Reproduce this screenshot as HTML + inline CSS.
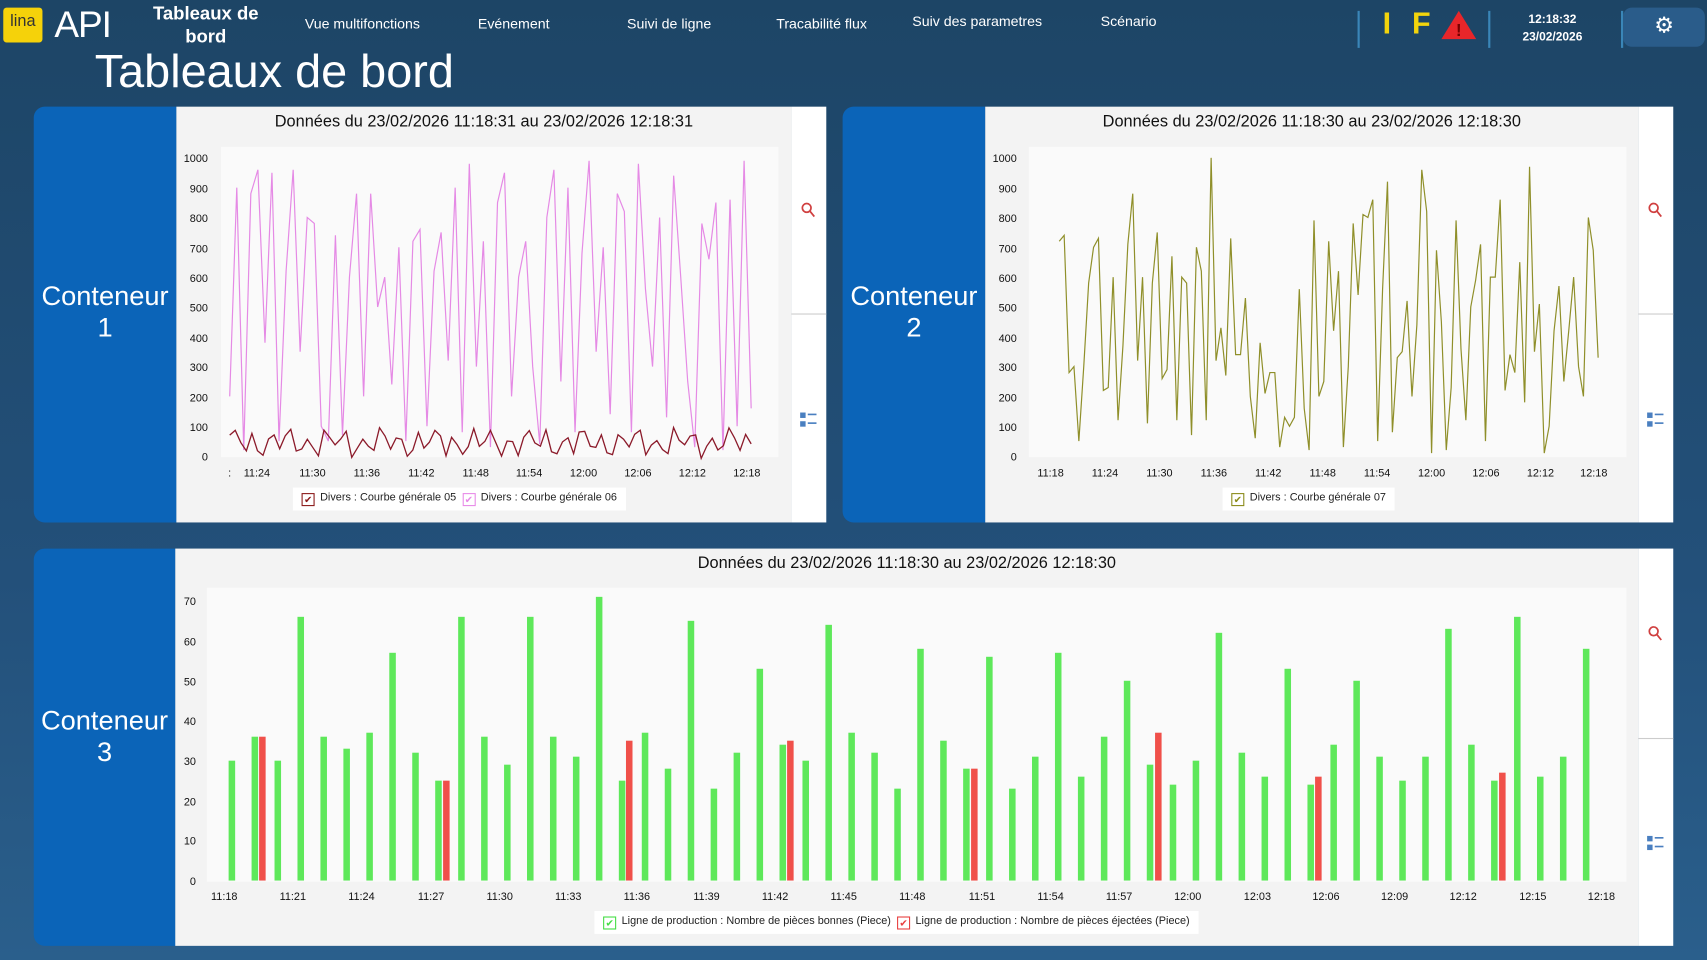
<!DOCTYPE html>
<html><head><meta charset="utf-8"><style>
html,body{margin:0;padding:0;width:1707px;height:960px;overflow:hidden;background:#224c70;font-family:"Liberation Sans",sans-serif}
#w{position:absolute;left:0;top:0;width:1568px;height:882px;transform:scale(1.08865,1.08844);transform-origin:0 0;background:linear-gradient(180deg,#1d4566 0%,#23507a 60%,#2a5f8c 100%)}
.a{position:absolute}
.nav{color:#fff;font-size:13px;top:14px}
.blue{background:#0b64b8;color:#fff;font-size:25px;text-align:center;border-radius:10px 0 0 10px}
.wh{background:#f3f3f3}
.strip{background:#fff}
.t{font-size:15px;color:#111;text-align:center}
.tk{font-size:10px;color:#111}
.lg{background:#fff;font-size:10px;color:#222;padding:4px 8px;white-space:nowrap}
.cb{display:inline-block;width:10px;height:10px;border:1px solid;vertical-align:-2px;margin-right:5px;font-size:9px;line-height:10px;text-align:center}
</style></head><body><div id="w">
<div class="a" style="left:3px;top:7px;width:36px;height:32px;background:#f5d20a;border-radius:3px;font-size:15px;color:#333;text-align:center;line-height:26px">lina</div>
<div class="a" style="left:50px;top:4px;color:#fff;font-size:34px;letter-spacing:-1px">API</div>
<div class="a" style="left:130px;top:2px;width:118px;color:#fff;font-size:17px;font-weight:bold;text-align:center;line-height:21px">Tableaux de bord</div>
<div class="a nav" style="left:280px">Vue multifonctions</div>
<div class="a nav" style="left:439px">Evénement</div>
<div class="a nav" style="left:576px">Suivi de ligne</div>
<div class="a nav" style="left:713px">Tracabilité flux</div>
<div class="a nav" style="left:838px;top:12px">Suiv des parametres</div>
<div class="a nav" style="left:1011px;top:12px">Scénario</div>
<div class="a" style="left:1247px;top:10px;width:2px;height:34px;background:#3a86b8"></div>
<div class="a" style="left:1270px;top:6px;color:#f2d40c;font-size:28px;font-weight:bold">I</div>
<div class="a" style="left:1297px;top:6px;color:#f2d40c;font-size:28px;font-weight:bold">F</div>
<svg class="a" style="left:1323px;top:9px" width="34" height="28"><polygon points="17,1 33,27 1,27" fill="#e8262a"/><text x="17" y="24" font-size="16" text-anchor="middle" fill="#700" font-weight="bold">!</text></svg>
<div class="a" style="left:1367px;top:10px;width:2px;height:34px;background:#3a86b8"></div>
<div class="a" style="left:1390px;top:10px;width:72px;color:#fff;font-size:11px;font-weight:bold;text-align:center;line-height:16px">12:18:32<br>23/02/2026</div>
<div class="a" style="left:1489px;top:10px;width:2px;height:34px;background:#3a86b8"></div>
<div class="a" style="left:1491px;top:7px;width:75px;height:36px;background:#2a5c8a;border-radius:8px;color:#fff;font-size:20px;text-align:center;line-height:34px">⚙</div>
<div class="a" style="left:87px;top:42px;color:#fff;font-size:43px">Tableaux de bord</div>

<!-- panel 1 -->
<div class="a blue" style="left:31px;top:98px;width:131px;height:382px"><div style="margin-top:160px;line-height:29px">Conteneur<br>1</div></div>
<div class="a wh" style="left:162px;top:98px;width:565px;height:382px"></div>
<div class="a strip" style="left:727px;top:98px;width:32px;height:382px"><div style="position:absolute;left:0;top:190px;width:32px;height:1px;background:#ccc"></div></div>
<div class="a t" style="left:162px;top:103px;width:565px">Données du 23/02/2026 11:18:31 au 23/02/2026 12:18:31</div>
<!-- panel 2 -->
<div class="a blue" style="left:774px;top:98px;width:131px;height:382px"><div style="margin-top:160px;line-height:29px">Conteneur<br>2</div></div>
<div class="a wh" style="left:905px;top:98px;width:600px;height:382px"></div>
<div class="a strip" style="left:1505px;top:98px;width:32px;height:382px"><div style="position:absolute;left:0;top:190px;width:32px;height:1px;background:#ccc"></div></div>
<div class="a t" style="left:905px;top:103px;width:600px">Données du 23/02/2026 11:18:30 au 23/02/2026 12:18:30</div>
<!-- panel 3 -->
<div class="a blue" style="left:31px;top:504px;width:130px;height:365px"><div style="margin-top:144px;line-height:29px">Conteneur<br>3</div></div>
<div class="a wh" style="left:161px;top:504px;width:1344px;height:365px"></div>
<div class="a strip" style="left:1505px;top:504px;width:32px;height:365px"><div style="position:absolute;left:0;top:174px;width:32px;height:1px;background:#ccc"></div></div>
<div class="a t" style="left:161px;top:509px;width:1344px">Données du 23/02/2026 11:18:30 au 23/02/2026 12:18:30</div>

<svg class="a" style="left:0;top:0" width="1568" height="882" id="g">
<rect x="203" y="135" width="512" height="285" fill="#fafafa"/>
<rect x="945" y="135" width="549" height="285" fill="#fafafa"/>
<rect x="190" y="540" width="1304" height="270" fill="#fafafa"/>
<g id="d"></g>
<g fill="none" stroke="#d04040" stroke-width="1.6">
<circle cx="741" cy="191" r="4"/><line x1="744" y1="194" x2="748" y2="199"/>
<circle cx="1519" cy="191" r="4"/><line x1="1522" y1="194" x2="1526" y2="199"/>
<circle cx="1519" cy="580" r="4"/><line x1="1522" y1="583" x2="1526" y2="588"/>
</g>
<g fill="#4a7fc0">
<rect x="735" y="379" width="5" height="5"/><rect x="735" y="387" width="5" height="5"/><rect x="742" y="380" width="8" height="1.5"/><rect x="742" y="388" width="8" height="1.5"/>
<rect x="1513" y="379" width="5" height="5"/><rect x="1513" y="387" width="5" height="5"/><rect x="1520" y="380" width="8" height="1.5"/><rect x="1520" y="388" width="8" height="1.5"/>
<rect x="1513" y="768" width="5" height="5"/><rect x="1513" y="776" width="5" height="5"/><rect x="1520" y="769" width="8" height="1.5"/><rect x="1520" y="777" width="8" height="1.5"/>
</g>
<g font-size="10" fill="#111" font-family="Liberation Sans,sans-serif" text-anchor="end">
<text x="191" y="149">1000</text><text x="191" y="177">900</text><text x="191" y="204">800</text><text x="191" y="232">700</text><text x="191" y="259">600</text><text x="191" y="286">500</text><text x="191" y="314">400</text><text x="191" y="341">300</text><text x="191" y="369">200</text><text x="191" y="396">100</text><text x="191" y="423">0</text>
<text x="934" y="149">1000</text><text x="934" y="177">900</text><text x="934" y="204">800</text><text x="934" y="232">700</text><text x="934" y="259">600</text><text x="934" y="286">500</text><text x="934" y="314">400</text><text x="934" y="341">300</text><text x="934" y="369">200</text><text x="934" y="396">100</text><text x="934" y="423">0</text>
<text x="180" y="556">70</text><text x="180" y="593">60</text><text x="180" y="630">50</text><text x="180" y="666">40</text><text x="180" y="703">30</text><text x="180" y="740">20</text><text x="180" y="776">10</text><text x="180" y="813">0</text>
</g>
<g font-size="10" fill="#111" font-family="Liberation Sans,sans-serif" text-anchor="middle">
<text x="211" y="438">:</text><text x="236" y="438">11:24</text><text x="287" y="438">11:30</text><text x="337" y="438">11:36</text><text x="387" y="438">11:42</text><text x="437" y="438">11:48</text><text x="486" y="438">11:54</text><text x="536" y="438">12:00</text><text x="586" y="438">12:06</text><text x="636" y="438">12:12</text><text x="686" y="438">12:18</text>
<text x="965" y="438">11:18</text><text x="1015" y="438">11:24</text><text x="1065" y="438">11:30</text><text x="1115" y="438">11:36</text><text x="1165" y="438">11:42</text><text x="1215" y="438">11:48</text><text x="1265" y="438">11:54</text><text x="1315" y="438">12:00</text><text x="1365" y="438">12:06</text><text x="1415" y="438">12:12</text><text x="1464" y="438">12:18</text>
<text x="206" y="827">11:18</text><text x="269" y="827">11:21</text><text x="332" y="827">11:24</text><text x="396" y="827">11:27</text><text x="459" y="827">11:30</text><text x="522" y="827">11:33</text><text x="585" y="827">11:36</text><text x="649" y="827">11:39</text><text x="712" y="827">11:42</text><text x="775" y="827">11:45</text><text x="838" y="827">11:48</text><text x="902" y="827">11:51</text><text x="965" y="827">11:54</text><text x="1028" y="827">11:57</text><text x="1091" y="827">12:00</text><text x="1155" y="827">12:03</text><text x="1218" y="827">12:06</text><text x="1281" y="827">12:09</text><text x="1344" y="827">12:12</text><text x="1408" y="827">12:15</text><text x="1471" y="827">12:18</text>
</g>
</svg>
<div class="a lg" style="left:269px;top:448px"><span class="cb" style="border-color:#8b1a1a;color:#8b1a1a">✔</span>Divers : Courbe générale 05 &nbsp;<span class="cb" style="border-color:#e88ae8;color:#e88ae8">✔</span>Divers : Courbe générale 06</div>
<div class="a lg" style="left:1123px;top:448px"><span class="cb" style="border-color:#8b8b1a;color:#8b8b1a">✔</span>Divers : Courbe générale 07</div>
<div class="a lg" style="left:546px;top:837px"><span class="cb" style="border-color:#44dd44;color:#44dd44">✔</span>Ligne de production : Nombre de pièces bonnes (Piece) &nbsp;<span class="cb" style="border-color:#e84040;color:#e84040">✔</span>Ligne de production : Nombre de pièces éjectées (Piece)</div>
</div>
<script>
var d=document.getElementById('d'),ns='http://www.w3.org/2000/svg';
function pl(vals,x0,x1,col,w){var p=[],n=vals.length;for(var i=0;i<n;i++){p.push((x0+(x1-x0)*i/(n-1)).toFixed(1)+','+(419-vals[i]*0.274).toFixed(1));}
var e=document.createElementNS(ns,'polyline');e.setAttribute('points',p.join(' '));e.setAttribute('fill','none');e.setAttribute('stroke',col);e.setAttribute('stroke-width',w);d.appendChild(e);}
pl([200,900,20,880,960,380,950,50,620,960,350,800,780,100,50,740,70,600,880,200,880,500,600,240,700,50,720,760,100,620,750,320,900,80,980,300,720,30,850,950,200,600,720,300,40,800,960,250,900,80,680,990,350,700,140,880,820,80,980,560,300,800,130,940,600,250,30,780,660,850,20,860,100,990,160],211,690,'#e58ae5',1.1);
var r=[];for(var i=0;i<95;i++){r.push(45+35*Math.sin(i*1.9)+18*Math.sin(i*0.7+1)+10*Math.cos(i*3.3));}
pl(r,211,690,'#8b1a2a',1.2);
pl([720,740,280,300,50,300,580,700,730,220,230,600,120,370,710,880,320,600,110,580,750,260,290,670,120,600,580,70,700,620,120,1000,320,430,270,730,340,340,530,200,60,380,210,280,280,30,130,100,130,560,160,20,790,200,250,720,420,620,30,300,780,540,810,800,860,50,560,920,80,330,350,520,200,440,960,820,10,690,450,20,230,790,360,120,500,590,710,50,600,600,860,220,340,280,650,180,970,350,510,10,100,420,570,250,420,600,300,200,800,690,330],973,1468,'#8f8f2a',1.1);
var g=[30,36,30,66,36,33,37,57,32,25,66,36,29,66,36,31,71,25,37,28,65,23,32,53,34,30,64,37,32,23,58,35,28,56,23,31,57,26,36,50,29,24,30,62,32,26,53,24,34,50,31,25,31,63,34,25,66,26,31,58];
for(var i=0;i<g.length;i++){var x=213+i*(1457-213)/(g.length-1);var e=document.createElementNS(ns,'rect');e.setAttribute('x',x-3);e.setAttribute('width',6);e.setAttribute('y',809-g[i]*3.671);e.setAttribute('height',g[i]*3.671);e.setAttribute('fill','#5ee85a');d.appendChild(e);}
[[241,36],[410,25],[578,35],[726,35],[895,28],[1064,37],[1211,26],[1380,27]].forEach(function(b){var e=document.createElementNS(ns,'rect');e.setAttribute('x',b[0]-3);e.setAttribute('width',6);e.setAttribute('y',809-b[1]*3.671);e.setAttribute('height',b[1]*3.671);e.setAttribute('fill','#f0504a');d.appendChild(e);});
</script>
</body></html>
